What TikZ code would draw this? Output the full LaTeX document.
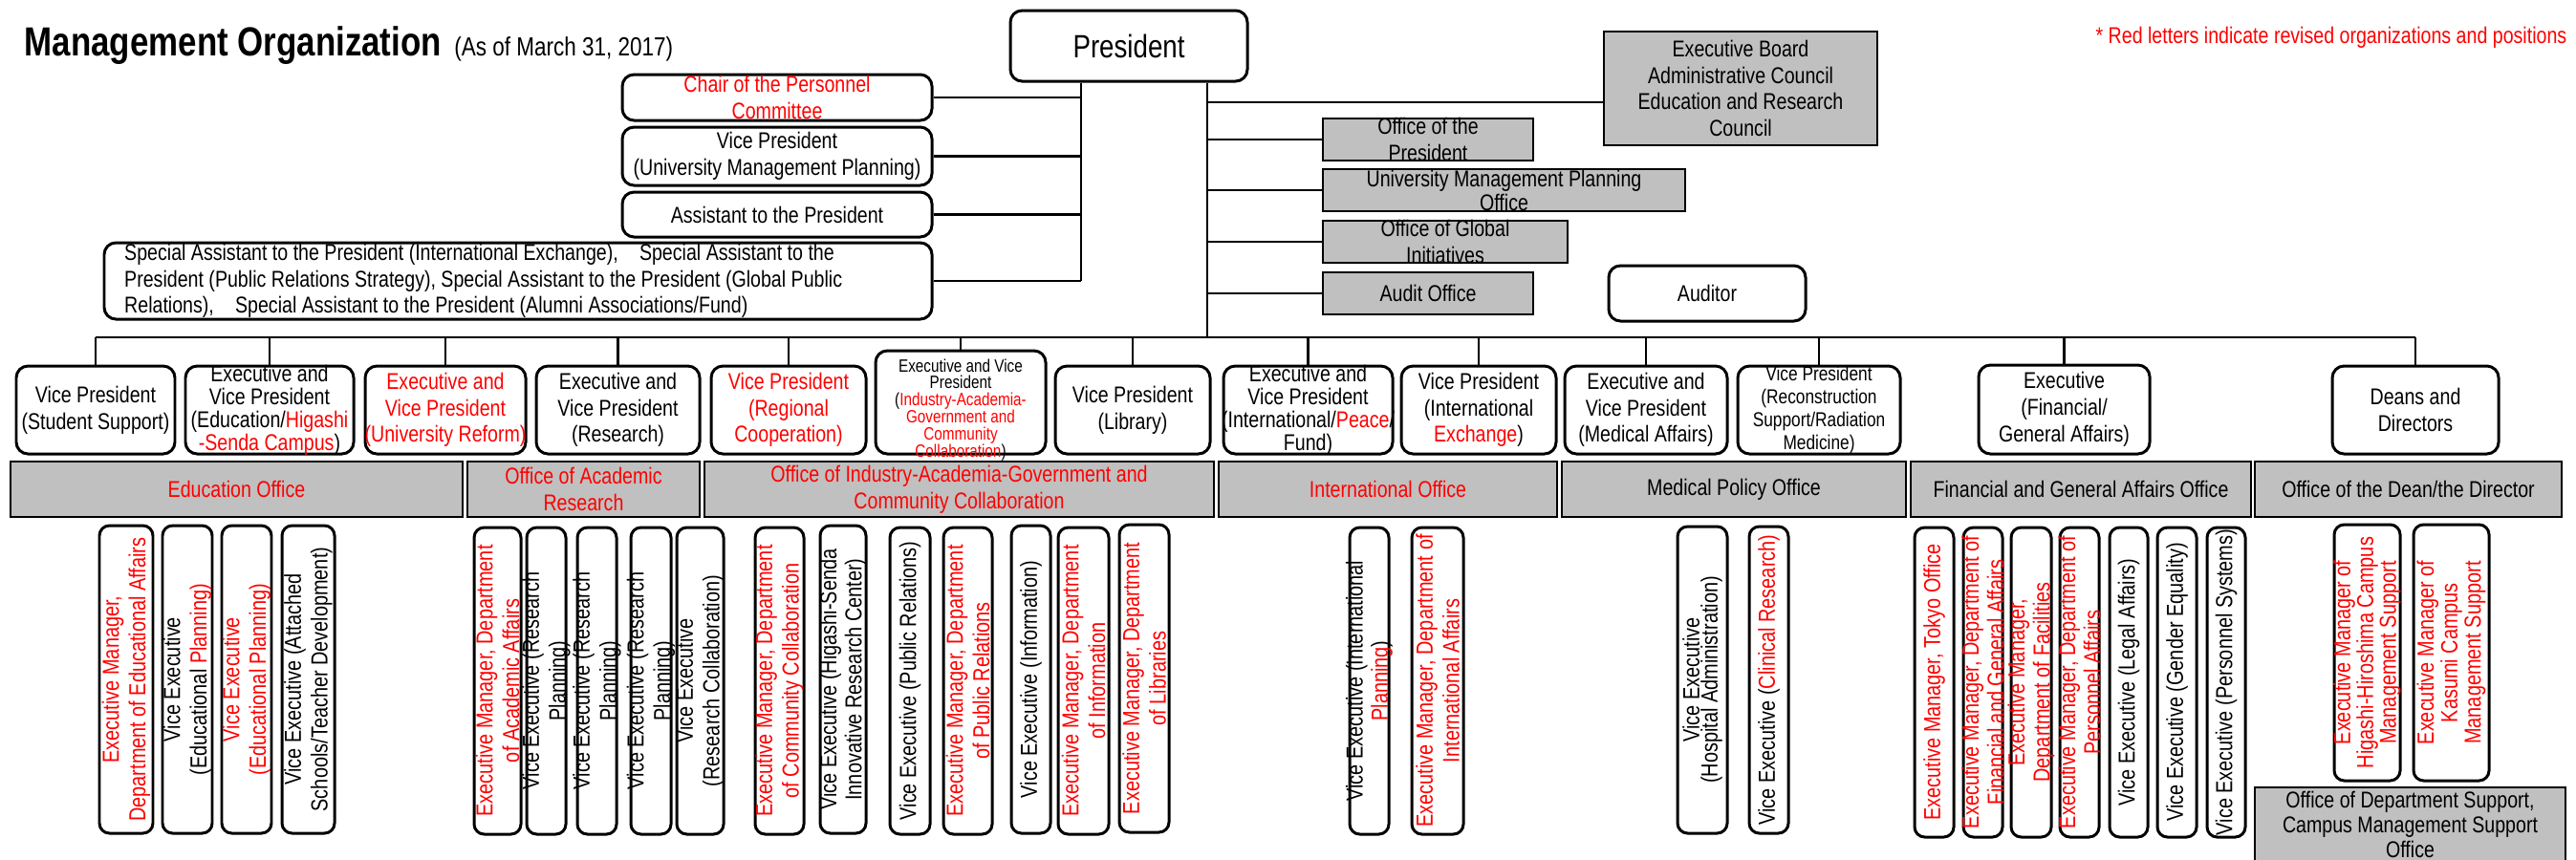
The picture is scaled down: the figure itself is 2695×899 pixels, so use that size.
\documentclass[tikz,border=0pt]{standalone}
\usepackage{fontspec}
\setmainfont[FakeStretch=0.82]{Liberation Sans}
\usetikzlibrary{fit}
\definecolor{rd}{RGB}{255,0,0}
\definecolor{gry}{RGB}{192,192,192}
\newcommand\rtx[1]{{\color{rd}#1}}
% [boxstyle]{name}{x1}{y1}{x2}{y2}{textstyle}{text}
\newcommand\hb[8][rbox]{%
 \node[fit={(#3,#4)(#5,#6)},inner sep=0pt,#1] (#2) {};
 \node[txt,#7] (#2t) at (#2.center) {#8};}
% {name}{x1}{y1}{x2}{y2}{textstyle}{text}
\newcommand\vb[7]{%
 \node[fit={(#2,#3)(#4,#5)},inner sep=0pt,vbox] (#1) {};
 \node[vtxt,rotate=90,#6] (#1t) at (#1.center) {#7};}
\begin{document}
\begin{tikzpicture}[x=0.01cm,y=-0.01cm,
 rbox/.style={draw,line width=0.85pt,rounded corners=3.5pt,fill=white},
 gbox/.style={draw,line width=0.75pt,fill=gry},
 vbox/.style={draw,line width=0.85pt,rounded corners=3pt,fill=white},
 txt/.style={inner sep=0pt,align=center,font=\fontsize{6.8}{7.9}\selectfont},
 vtxt/.style={inner sep=0pt,align=center,font=\fontsize{6.9}{7.9}\selectfont},
 sz/.style n args={2}{font=\fontsize{#1}{#2}\selectfont},
 rtext/.style={text=rd},
 ln/.style={line width=0.8pt}]
\useasboundingbox (0,0) rectangle (2695,899);
\clip (0,0) rectangle (2695,899);

% title and note
\node[anchor=base west,inner sep=0pt,font=\bfseries\fontsize{12.1}{14}\selectfont] (title) at (25,58) {Management Organization};
\node[anchor=base west,inner sep=0pt,font=\fontsize{7.8}{9}\selectfont,xshift=0.12cm] (asof) at (title.base east) {(As of March 31, 2017)};
\node[anchor=base east,inner sep=0pt,font=\fontsize{6.8}{7.9}\selectfont,text=rd] (note) at (2686,45) {* Red letters indicate revised organizations and positions};

% top
\hb[rbox]{P}{1057}{11}{1305}{85}{sz={9.6}{11}}{President}
\hb[gbox]{EB}{1678}{33}{1964}{152}{}{Executive Board\\Administrative Council\\Education and Research\\Council}
\hb[gbox]{OP}{1384}{124}{1604}{168}{}{Office of the\\President}
\hb[gbox]{UM}{1384}{177}{1763}{221}{sz={6.8}{7.1}}{University Management Planning\\Office}
\hb[gbox]{OG}{1384}{231}{1640}{275}{}{Office of Global\\Initiatives}
\hb[gbox]{AO}{1384}{285}{1604}{329}{}{Audit Office}
\hb[rbox]{AU}{1683}{278}{1889}{336}{}{Auditor}

\hb[rbox]{CH}{651}{78}{975}{126}{rtext}{Chair of the Personnel\\Committee}
\hb[rbox]{VU}{651}{133}{975}{194}{}{Vice President\\(University Management Planning)}
\hb[rbox]{AS}{651}{201}{975}{248}{}{Assistant to the President}
\node[fit={(109,254)(975,334)},inner sep=0pt,rbox] (SP) {};
\node[txt,align=left,anchor=west,xshift=0.22cm] (SPt) at (SP.west) {Special Assistant to the President (International Exchange),\hspace{0.7em} Special Assistant to the\\President (Public Relations Strategy), Special Assistant to the President (Global Public\\Relations),\hspace{0.7em} Special Assistant to the President (Alumni Associations/Fund)};

% vice president row
\hb[rbox]{v1}{17}{383}{183}{475}{}{Vice President\\(Student Support)}
\hb[rbox]{v2}{194}{383}{370}{475}{sz={6.8}{6.8}}{Executive and\\Vice President\\(Education/\rtx{Higashi}\\\rtx{-Senda Campus})}
\hb[rbox]{v3}{382}{383}{550}{475}{rtext}{Executive and\\Vice President\\(University Reform)}
\hb[rbox]{v4}{561}{383}{732}{475}{}{Executive and\\Vice President\\(Research)}
\hb[rbox]{v5}{744}{383}{906}{475}{rtext}{Vice President\\(Regional\\Cooperation)}
\hb[rbox]{v6}{916}{367}{1094}{475}{sz={5.3}{5.1},yshift=-0.08cm}{Executive and Vice\\President\\(\rtx{Industry-Academia-}\\\rtx{Government and}\\\rtx{Community}\\\rtx{Collaboration})}
\hb[rbox]{v7}{1104}{383}{1266}{475}{}{Vice President\\(Library)}
\hb[rbox]{v8}{1280}{383}{1457}{475}{sz={6.8}{6.8}}{Executive and\\Vice President\\(International/\rtx{Peace}/\\Fund)}
\hb[rbox]{v9}{1466}{383}{1628}{475}{}{Vice President\\(International\\\rtx{Exchange})}
\hb[rbox]{v10}{1637}{383}{1807}{475}{}{Executive and\\Vice President\\(Medical Affairs)}
\hb[rbox]{v11}{1818}{383}{1988}{475}{sz={6}{6.8}}{Vice President\\(Reconstruction\\Support/Radiation\\Medicine)}
\hb[rbox]{v12}{2070}{382}{2249}{475}{}{Executive\\(Financial/\\General Affairs)}
\hb[rbox]{v13}{2440}{383}{2614}{475}{}{Deans and\\Directors}

% offices row
\hb[gbox]{o1}{11}{483}{484}{541}{rtext}{Education Office}
\hb[gbox]{o2}{489}{483}{732}{541}{rtext}{Office of Academic\\Research}
\hb[gbox]{o3}{737}{483}{1270}{541}{rtext}{Office of Industry-Academia-Government and\\Community Collaboration}
\hb[gbox]{o4}{1275}{483}{1629}{541}{rtext}{International Office}
\hb[gbox]{o5}{1634}{483}{1994}{541}{}{Medical Policy Office}
\hb[gbox]{o6}{1999}{483}{2355}{541}{}{Financial and General Affairs Office}
\hb[gbox]{o7}{2359}{483}{2680}{541}{}{Office of the Dean/the Director}

% vertical boxes: education
\vb{B1}{104}{550}{160}{872}{rtext}{Executive Manager,\\Department of Educational Affairs}
\vb{B2}{170}{550}{222}{872}{}{Vice Executive\\(Educational \rtx{Planning)}}
\vb{B3}{232}{550}{284}{872}{rtext}{Vice Executive\\(Educational Planning)}
\vb{B4}{295}{550}{350}{872}{}{Vice Executive (Attached\\Schools/Teacher Development)}
% academic research
\vb{R1}{496}{552}{545}{873}{rtext}{Executive Manager, Department\\of Academic Affairs}
\vb{R2}{551}{552}{592}{873}{}{Vice Executive (Research\\Planning)}
\vb{R3}{604}{552}{645}{873}{}{Vice Executive (Research\\Planning)}
\vb{R4}{660}{552}{702}{873}{}{Vice Executive (Research\\Planning)}
\vb{R5}{708}{552}{757}{873}{}{Vice Executive\\(Research Collaboration)}
% industry
\vb{I1}{790}{552}{841}{873}{rtext}{Executive Manager, Department\\of Community Collaboration}
\vb{I2}{858}{550}{906}{872}{sz={6.9}{4.7}}{Vice Executive (Higashi-Senda\\Innovative Research Center)}
\vb{I3}{931}{552}{973}{873}{}{Vice Executive (Public Relations)}
\vb{I4}{987}{552}{1038}{873}{rtext}{Executive Manager, Department\\of Public Relations}
\vb{I5}{1058}{550}{1099}{872}{}{Vice Executive (Information)}
\vb{I6}{1107}{552}{1160}{873}{rtext}{Executive Manager, Department\\of Information}
\vb{I7}{1171}{549}{1223}{871}{rtext}{Executive Manager, Department\\of Libraries}
% international
\vb{N1}{1412}{552}{1453}{873}{sz={6.9}{5.4}}{Vice Executive (International\\\rtx{Planning})}
\vb{N2}{1477}{552}{1531}{873}{rtext}{Executive Manager, Department of\\International Affairs}
% medical
\vb{M1}{1755}{551}{1807}{872}{sz={6.9}{5.4}}{Vice Executive\\(Hospital Administration)}
\vb{M2}{1830}{551}{1871}{872}{}{Vice Executive (\rtx{Clinical Research)}}
% financial
\vb{F1}{2003}{552}{2044}{876}{rtext}{Executive Manager, Tokyo Office}
\vb{F2}{2054}{552}{2095}{876}{rtext,sz={6.9}{4.9}}{Executive Manager, Department of\\Financial and General Affairs}
\vb{F3}{2104}{552}{2146}{876}{rtext,sz={6.9}{4.5}}{Executive Manager,\\Department of Facilities}
\vb{F4}{2155}{552}{2196}{876}{rtext,sz={6.9}{4.9}}{Executive Manager, Department of\\Personnel Affairs}
\vb{F5}{2207}{552}{2247}{876}{}{Vice Executive (Legal Affairs)}
\vb{F6}{2257}{552}{2298}{876}{}{Vice Executive (Gender Equality)}
\vb{F7}{2309}{552}{2349}{876}{}{Vice Executive (Personnel Systems)}
% dean
\vb{D1}{2442}{549}{2511}{817}{rtext,sz={6.9}{6.8}}{Executive Manager of\\Higashi-Hiroshima Campus\\Management Support}
\vb{D2}{2525}{549}{2604}{817}{rtext,sz={6.9}{7}}{Executive Manager of\\Kasumi Campus\\Management Support}
\hb[gbox]{DS}{2359}{824}{2684}{902}{sz={6.8}{7.4}}{Office of Department Support,\\Campus Management Support\\Office}

% connectors
\coordinate (L) at (1131,300);
\coordinate (R) at (1263,353);
\coordinate (ebj) at (1678,107);
\draw[ln] (P.south -| L) -- (SP.east -| L);
\foreach \n in {CH,VU,AS,SP} \draw[ln] (\n.east) -- (\n.east -| L);
\draw[ln] (P.south -| R) -- (R);
\draw[ln] (R |- ebj) -- (ebj);
\foreach \n in {OP,UM,OG,AO} \draw[ln] (R |- \n.west) -- (\n.west);
\draw[ln] (v1.north |- R) -- (v13.north |- R);
\foreach \n in {v1,v2,v3,v4,v5,v6,v7,v8,v9,v10,v11,v12,v13} \draw[ln] (\n.north |- R) -- (\n.north);
\end{tikzpicture}
\end{document}
